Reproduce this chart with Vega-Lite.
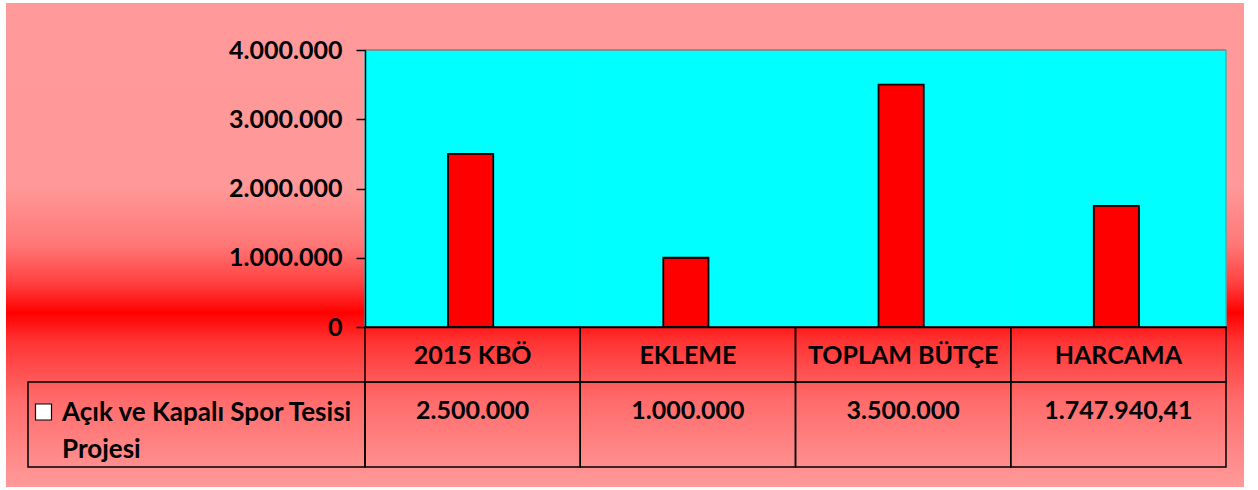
{
  "$schema": "https://vega.github.io/schema/vega-lite/v6.json",
  "width": 1238,
  "height": 484,
  "autosize": {"type": "none"},
  "padding": {"left": 6, "top": 3, "right": 14, "bottom": 3},
  "background": "white",
  "config": {
    "view": {"stroke": null},
    "font": "Lato",
    "locale": {"number": {"decimal": ",", "thousands": ".", "grouping": [3], "currency": ["", ""]}}
  },
  "datasets": {
    "butce": [
      {"kalem": "2015 KBÖ", "proje": "Açık ve Kapalı Spor Tesisi\nProjesi", "tutar": 2500000},
      {"kalem": "EKLEME", "proje": "Açık ve Kapalı Spor Tesisi\nProjesi", "tutar": 1000000},
      {"kalem": "TOPLAM BÜTÇE", "proje": "Açık ve Kapalı Spor Tesisi\nProjesi", "tutar": 3500000},
      {"kalem": "HARCAMA", "proje": "Açık ve Kapalı Spor Tesisi\nProjesi", "tutar": 1747940.41}
    ],
    "proje": [
      {"proje": "Açık ve Kapalı Spor Tesisi\nProjesi"}
    ]
  },
  "resolve": {
    "scale": {"x": "independent", "y": "independent"},
    "axis": {"x": "independent", "y": "independent"}
  },
  "layer": [
    {
      "data": {"name": "proje"},
      "mark": {
        "type": "rect",
        "color": {
          "gradient": "linear",
          "x1": 0, "y1": 0, "x2": 0, "y2": 1,
          "stops": [
            {"offset": 0, "color": "#FF9A9A"},
            {"offset": 0.38, "color": "#FF9898"},
            {"offset": 0.5, "color": "#FF7777"},
            {"offset": 0.58, "color": "#FF3F3F"},
            {"offset": 0.64, "color": "#FF0000"},
            {"offset": 0.7, "color": "#FF3434"},
            {"offset": 0.82, "color": "#FF6B6B"},
            {"offset": 1, "color": "#FF9A9A"}
          ]
        }
      },
      "encoding": {}
    },
    {
      "data": {"name": "butce"},
      "mark": {"type": "rect", "fill": "#00FFFF", "stroke": "#00FFFF", "strokeWidth": 1},
      "encoding": {
        "x": {"field": "kalem", "type": "nominal", "sort": null, "axis": null,
              "scale": {"type": "band", "domain": ["2015 KBÖ", "EKLEME", "TOPLAM BÜTÇE", "HARCAMA"], "range": [359, 1220], "paddingInner": 0, "paddingOuter": 0}},
        "y": {"datum": 0, "type": "quantitative", "axis": null,
              "scale": {"domain": [0, 4000000], "range": [324, 47], "nice": false}},
        "y2": {"datum": 4000000}
      }
    },
    {
      "data": {"name": "butce"},
      "mark": {"type": "rect", "fill": null, "stroke": "#808080", "strokeWidth": 1},
      "encoding": {
        "x": {"field": "kalem", "type": "nominal", "sort": null, "axis": null,
              "scale": {"type": "band", "domain": ["2015 KBÖ", "EKLEME", "TOPLAM BÜTÇE", "HARCAMA"], "range": [359, 1220], "paddingInner": 0, "paddingOuter": 0}},
        "y": {"datum": 4000000, "type": "quantitative", "axis": null,
              "scale": {"domain": [0, 4000000], "range": [324, 47], "nice": false}},
        "y2": {"datum": 4000000}
      }
    },
    {
      "data": {"name": "butce"},
      "transform": [{"filter": "datum.kalem === 'HARCAMA'"}],
      "mark": {"type": "rule", "stroke": "#808080", "strokeWidth": 1},
      "encoding": {
        "x": {"field": "kalem", "type": "nominal", "bandPosition": 1, "axis": null,
              "scale": {"type": "band", "domain": ["2015 KBÖ", "EKLEME", "TOPLAM BÜTÇE", "HARCAMA"], "range": [359, 1220], "paddingInner": 0, "paddingOuter": 0}},
        "y": {"datum": 0, "type": "quantitative", "axis": null,
              "scale": {"domain": [0, 4000000], "range": [324, 47], "nice": false}},
        "y2": {"datum": 4000000}
      }
    },
    {
      "data": {"name": "butce"},
      "mark": {"type": "bar", "fill": "#FF0000", "stroke": "#000000", "strokeWidth": 1.8, "width": {"band": 0.21}, "xOffset": -2},
      "encoding": {
        "x": {"field": "kalem", "type": "nominal", "sort": null,
              "scale": {"type": "band", "domain": ["2015 KBÖ", "EKLEME", "TOPLAM BÜTÇE", "HARCAMA"], "range": [359, 1220], "paddingInner": 0, "paddingOuter": 0},
              "axis": {"orient": "bottom", "offset": -160, "zindex": 2, "title": null, "ticks": false, "domain": true, "domainColor": "#000000", "domainWidth": 1.5,
                       "labelAngle": 0, "labelPadding": 28, "labelBaseline": "middle", "labelFontSize": 25, "labelFontWeight": "bold", "labelColor": "#000000",
                       "labelLimit": 0, "labelOverlap": false, "labelFlush": false, "grid": false}},
        "y": {"field": "tutar", "type": "quantitative",
              "scale": {"domain": [0, 4000000], "range": [324, 47], "nice": false},
              "axis": {"orient": "left", "offset": -359, "zindex": 2, "title": null, "values": [0, 1000000, 2000000, 3000000, 4000000], "format": ",d",
                       "domain": true, "domainColor": "#000000", "domainWidth": 1.5, "ticks": true, "tickSize": 9, "tickColor": "#000000", "tickWidth": 1.5,
                       "labelPadding": 14, "labelFontSize": 25, "labelFontWeight": "bold", "labelColor": "#000000", "labelLimit": 0, "labelFlush": false, "grid": false}}
      }
    },
    {
      "data": {"name": "butce"},
      "mark": {"type": "rect", "fill": null, "stroke": "#000000", "strokeWidth": 1.5},
      "encoding": {
        "x": {"field": "kalem", "type": "nominal", "sort": null, "axis": null,
              "scale": {"type": "band", "domain": ["2015 KBÖ", "EKLEME", "TOPLAM BÜTÇE", "HARCAMA"], "range": [359, 1220], "paddingInner": 0, "paddingOuter": 0}},
        "y": {"field": "proje", "type": "nominal", "axis": null,
              "scale": {"type": "band", "range": [324, 379], "paddingInner": 0, "paddingOuter": 0}}
      }
    },
    {
      "data": {"name": "butce"},
      "mark": {"type": "rect", "fill": null, "stroke": "#000000", "strokeWidth": 1.5},
      "encoding": {
        "x": {"field": "kalem", "type": "nominal", "sort": null, "axis": null,
              "scale": {"type": "band", "domain": ["2015 KBÖ", "EKLEME", "TOPLAM BÜTÇE", "HARCAMA"], "range": [359, 1220], "paddingInner": 0, "paddingOuter": 0}},
        "y": {"field": "proje", "type": "nominal", "axis": null,
              "scale": {"type": "band", "range": [379, 464], "paddingInner": 0, "paddingOuter": 0}}
      }
    },
    {
      "data": {"name": "butce"},
      "mark": {"type": "text", "fontSize": 25, "fontWeight": "bold", "color": "#000000", "dy": -14, "align": "center", "baseline": "middle"},
      "encoding": {
        "x": {"field": "kalem", "type": "nominal", "sort": null, "axis": null,
              "scale": {"type": "band", "domain": ["2015 KBÖ", "EKLEME", "TOPLAM BÜTÇE", "HARCAMA"], "range": [359, 1220], "paddingInner": 0, "paddingOuter": 0}},
        "y": {"field": "proje", "type": "nominal", "axis": null,
              "scale": {"type": "band", "range": [379, 464], "paddingInner": 0, "paddingOuter": 0}},
        "text": {"field": "tutar", "type": "quantitative", "format": ",.2~f"}
      }
    },
    {
      "data": {"name": "proje"},
      "mark": {"type": "rect", "fill": null, "stroke": "#000000", "strokeWidth": 1.5},
      "encoding": {
        "x": {"field": "proje", "type": "nominal", "axis": null,
              "scale": {"type": "band", "range": [22, 359], "paddingInner": 0, "paddingOuter": 0}},
        "y": {"field": "proje", "type": "nominal", "axis": null,
              "scale": {"type": "band", "range": [379, 464], "paddingInner": 0, "paddingOuter": 0}}
      }
    },
    {
      "data": {"name": "proje"},
      "mark": {"type": "point", "shape": "square", "size": 256, "filled": true, "fill": "#FFFFFF", "stroke": "#000000", "strokeWidth": 1.2, "opacity": 1, "xOffset": 15.5, "yOffset": -12.5},
      "encoding": {
        "x": {"field": "proje", "type": "nominal", "bandPosition": 0, "axis": null,
              "scale": {"type": "band", "range": [22, 359], "paddingInner": 0, "paddingOuter": 0}},
        "y": {"field": "proje", "type": "nominal", "axis": null,
              "scale": {"type": "band", "range": [379, 464], "paddingInner": 0, "paddingOuter": 0}}
      }
    },
    {
      "data": {"name": "proje"},
      "mark": {"type": "text", "fontSize": 26, "fontWeight": "bold", "color": "#000000", "align": "left", "baseline": "middle", "dx": 34, "dy": -11.5, "lineBreak": "\n", "lineHeight": 37},
      "encoding": {
        "x": {"field": "proje", "type": "nominal", "bandPosition": 0, "axis": null,
              "scale": {"type": "band", "range": [22, 359], "paddingInner": 0, "paddingOuter": 0}},
        "y": {"field": "proje", "type": "nominal", "axis": null,
              "scale": {"type": "band", "range": [379, 464], "paddingInner": 0, "paddingOuter": 0}},
        "text": {"field": "proje", "type": "nominal"}
      }
    }
  ]
}
